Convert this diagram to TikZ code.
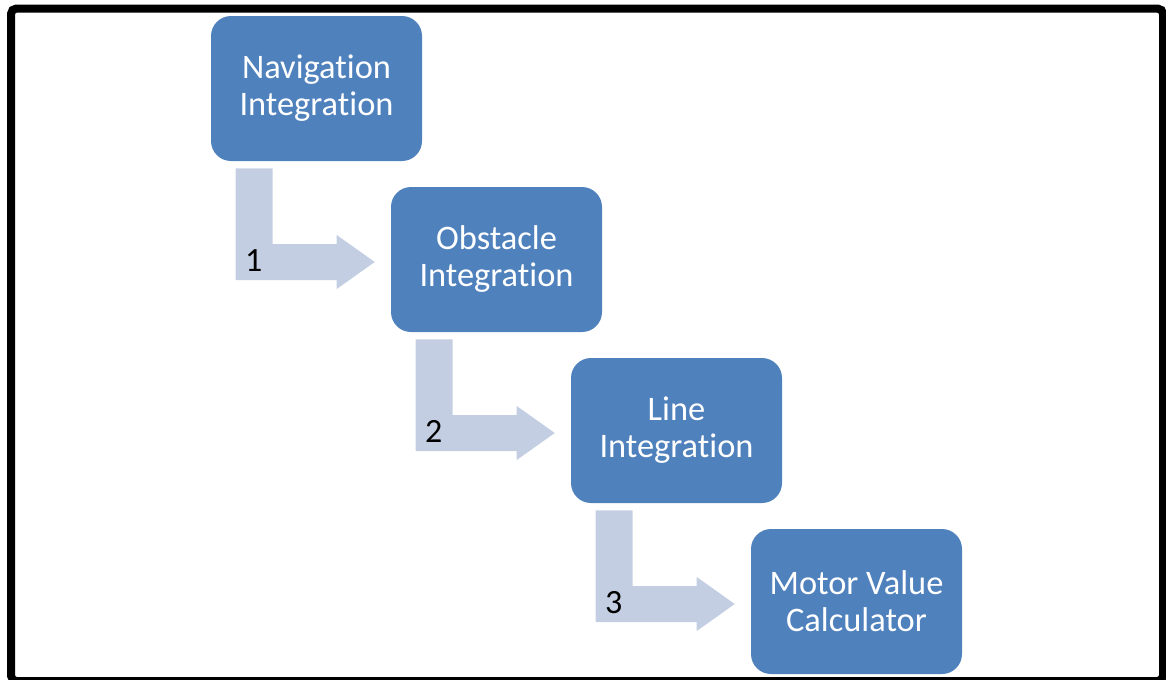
\documentclass[tikz,border=0pt]{standalone}
\usepackage{fontspec}
\setmainfont{Carlito}[Ligatures=NoCommon]
\usetikzlibrary{calc}

\definecolor{boxblue}{RGB}{79,129,189}
\definecolor{arrowblue}{RGB}{196,206,227}

\tikzset{
    stepbox/.style={fill=boxblue, rounded corners=15pt, inner sep=0pt,
        minimum width=158.25pt, minimum height=108.75pt,
        text=white, align=center, font=\fontsize{25.8}{27.75}\selectfont},
    stepnum/.style={inner sep=0pt, font=\fontsize{25.5}{30}\selectfont}
}

% bent arrow running from under #1 into the left side of #2
\newcommand{\steparrow}[3]{%
    \path ($(#1.south west)+(25,7)$) coordinate (#1-a)
          ($(#2.west)+(-16,2.5)$) coordinate (#1-b);
    \fill[arrowblue] (#1-a) -- ++(37,0) |- ($(#1-b)+(-38,-18)$) -- ++(0,-9)
        -- (#1-b) -- ++(-38,27) -- ++(0,-9) -| (#1-a) -- cycle;
    \node[stepnum] at ($(#1-a)+(18,92)$) {#3};
}

\begin{document}
\begin{tikzpicture}[x=0.75pt, y=-0.75pt]
                        \useasboundingbox (0,0) rectangle (1166,679);
                        \clip (0,0) rectangle (1166,679);

                        \node[stepbox] (nav)   at (316.5,88.5)  {Navigation\\Integration};
                        \node[stepbox] (obst)  at (496.5,259.5) {Obstacle\\Integration};
                        \node[stepbox] (line)  at (676.5,430.5) {Line\\Integration};
                        \node[stepbox] (motor) at (856.5,601.5) {Motor Value\\Calculator};

                        \steparrow{nav}{obst}{1}
                        \steparrow{obst}{line}{2}
                        \steparrow{line}{motor}{3}

                        \draw[line width=6pt, rounded corners=4pt] (11,8.5) rectangle (1163,681);
                    \end{tikzpicture}
\end{document}
